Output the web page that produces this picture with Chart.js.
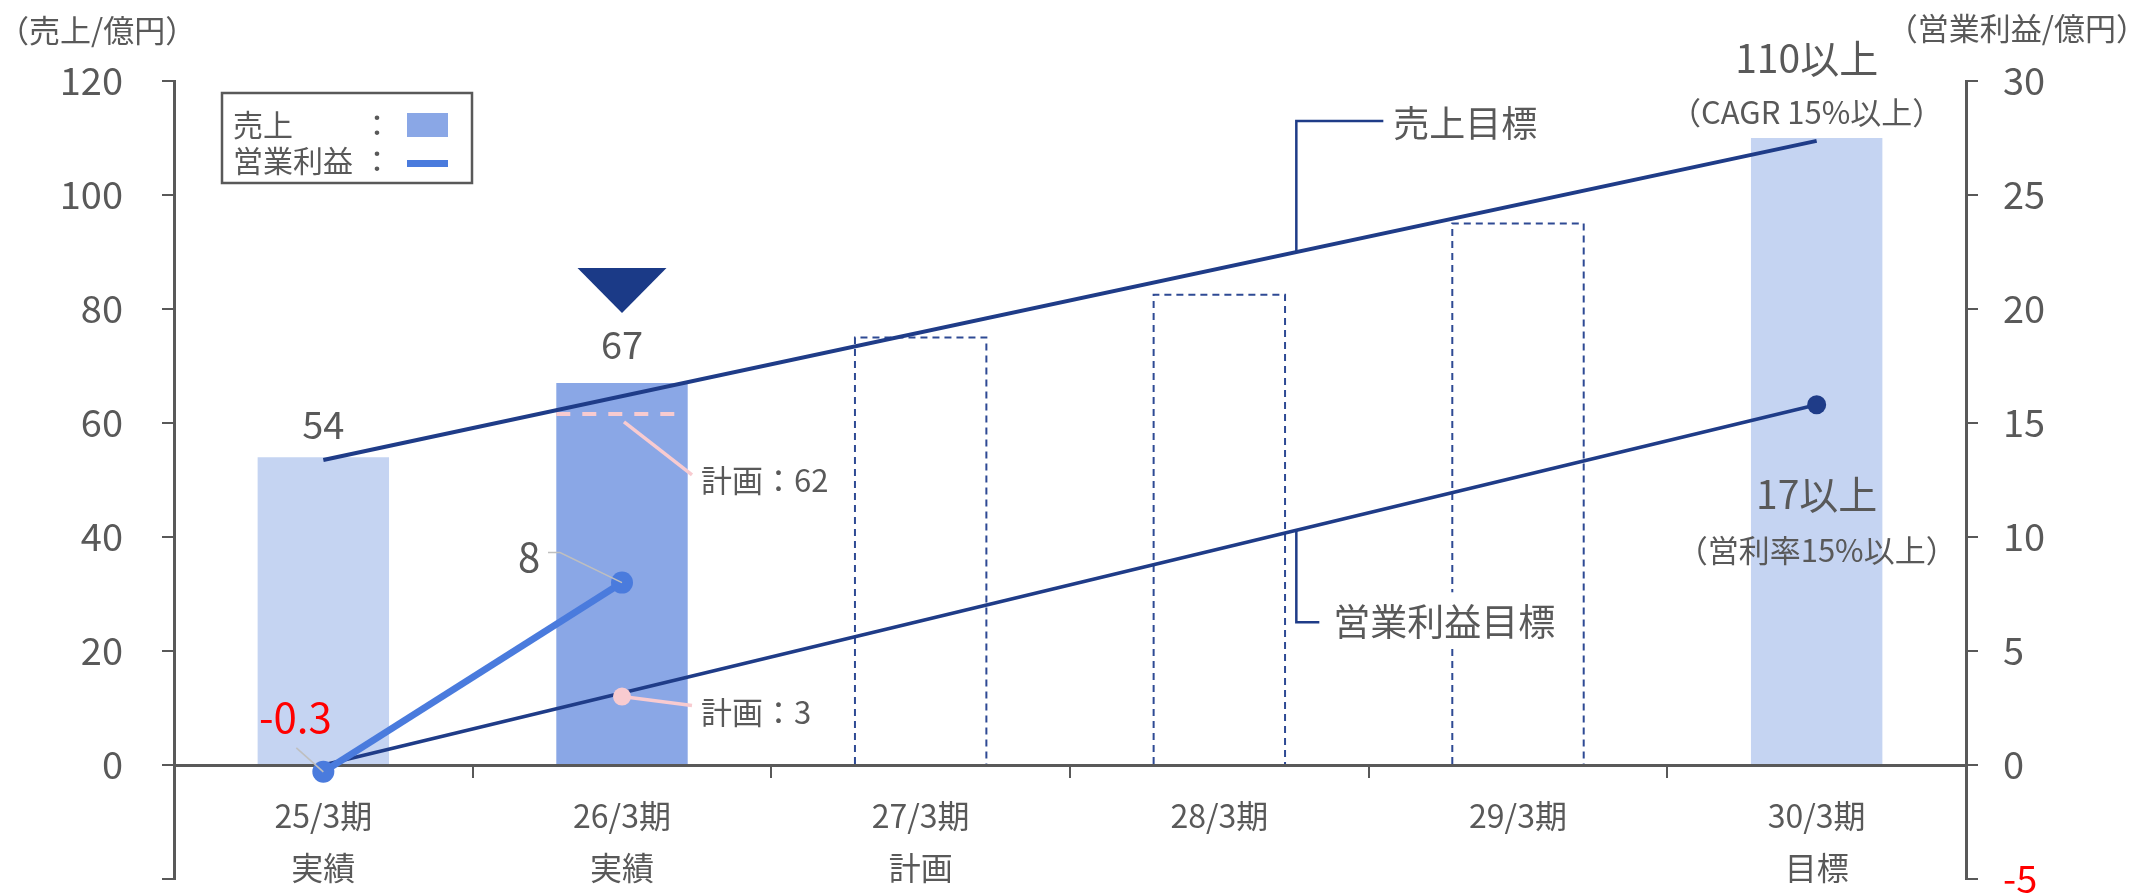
<!DOCTYPE html>
<html><head><meta charset="utf-8">
<script src="https://cdn.jsdelivr.net/npm/chart.js@4.4.1/dist/chart.umd.min.js"></script>
<style>html,body{margin:0;padding:0;background:#fff;}#wrap{width:2145px;height:893px;position:relative;}</style>
</head><body><div id="wrap"><canvas id="c" width="2145" height="893"></canvas></div>
<script>
// ---- data ----
const periods = ['25/3期','26/3期','27/3期','28/3期','29/3期','30/3期'];
const periodNotes = ['実績','実績','計画','','','目標'];
const salesActual = [54, 67, null, null, null, 110];
const salesPlanBars = [null, null, 75, 82.5, 95, null];
const salesTarget = [53.5, null, null, null, null, 109.5];
const profitActual = [-0.3, 8, null, null, null, null];
const profitTarget = [0, null, null, null, null, 15.8];
const salesPlan = [null, 61.6, null, null, null, null];
const profitPlan = [null, 3, null, null, null, null];
const salesValueLabels = ['54', '67', null, null, null, '110以上'];
const profitValueLabels = ['-0.3', '8', null, null, null, '17以上'];
const planLabels = ['計画：62', '計画：3'];
const leftAxis = {min: -20, max: 120, step: 20};
const rightAxis = {min: -5, max: 30, step: 5};

// ---- style ----
const FONT = "'Noto Sans CJK JP','Noto Sans',sans-serif";
const GREY = '#595959';
const NAVY = '#1F3C88';
const BLUE = '#4A7BDD';
const PINK = '#F8CBD0';
const labels = periods.map((p, i) => [p, periodNotes[i]]);

function txt(ctx, s, x, y, size, color, align) {
  ctx.save();
  ctx.font = size + 'px ' + FONT;
  ctx.fillStyle = color || GREY;
  ctx.textAlign = align || 'center';
  ctx.textBaseline = 'middle';
  ctx.fillText(s, x, y);
  ctx.restore();
}
function path(ctx, pts, color, w, dash) {
  ctx.save();
  ctx.strokeStyle = color; ctx.lineWidth = w;
  ctx.setLineDash(dash || []);
  ctx.beginPath();
  pts.forEach((p, i) => i ? ctx.lineTo(p[0], p[1]) : ctx.moveTo(p[0], p[1]));
  ctx.stroke();
  ctx.restore();
}

const deco = {
  id: 'deco',
  afterDatasetDraw(chart, args) {
    const ctx = chart.ctx;
    const ys = chart.scales.y;
    if (args.index === 0) {
      const meta = chart.getDatasetMeta(0);
      salesPlan.forEach((v, i) => {
        if (v == null) return;
        const el = meta.data[i];
        const yy = ys.getPixelForValue(v);
        path(ctx, [[el.x - el.width / 2, yy], [el.x + el.width / 2 - 6, yy]], PINK, 4, [14, 12]);
      });
    }
    if (args.index === 1) {
      const meta = chart.getDatasetMeta(1);
      salesPlanBars.forEach((v, i) => {
        if (v == null) return;
        const el = meta.data[i];
        const l = el.x - el.width / 2, r = el.x + el.width / 2;
        path(ctx, [[l, el.base], [l, el.y], [r, el.y], [r, el.base]], '#2E4A94', 2, [7, 5]);
      });
    }
  },
  afterDatasetsDraw(chart) {
    const ctx = chart.ctx;
    const xs = chart.scales.x, ys = chart.scales.y, y1 = chart.scales.y1;
    const cx = i => xs.getPixelForValue(i);

    // titles
    txt(ctx, '（売上/億円）', -2, 30, 31, GREY, 'left');
    txt(ctx, '（営業利益/億円）', 2147, 28, 31, GREY, 'right');

    // legend
    ctx.save();
    ctx.fillStyle = '#fff'; ctx.fillRect(222, 93, 250, 90);
    ctx.strokeStyle = GREY; ctx.lineWidth = 2.5; ctx.strokeRect(222, 93, 250, 90);
    ctx.fillStyle = '#8AA7E6'; ctx.fillRect(407, 113, 41, 24);
    ctx.fillStyle = BLUE; ctx.fillRect(407, 160, 41, 7);
    ctx.restore();
    txt(ctx, '売上', 233, 125, 30, GREY, 'left');
    txt(ctx, '：', 377, 125, 30, GREY, 'center');
    txt(ctx, '営業利益', 233, 161, 30, GREY, 'left');
    txt(ctx, '：', 377, 161, 30, GREY, 'center');

    // sales value labels
    const dy = [-33, -39];
    salesActual.forEach((v, i) => {
      const s = salesValueLabels[i];
      if (v == null || !s) return;
      const top = ys.getPixelForValue(v);
      if (i < 5) {
        txt(ctx, s, cx(i), top + dy[i], 38, GREY);
      } else {
        txt(ctx, s, cx(i) - 10, top - 80, 39, GREY);
        txt(ctx, '（CAGR 15%以上）', cx(i) - 10, top - 26, 31, GREY);
      }
    });
    // triangle over latest actual
    {
      const top = ys.getPixelForValue(salesActual[1]);
      const x = cx(1), ay = top - 70;
      ctx.save(); ctx.fillStyle = '#1B3A87';
      ctx.beginPath(); ctx.moveTo(x - 44.5, ay - 45); ctx.lineTo(x + 44.5, ay - 45); ctx.lineTo(x, ay); ctx.closePath(); ctx.fill();
      ctx.restore();
    }

    // planned sales callout
    {
      const yy = ys.getPixelForValue(salesPlan[1]);
      const x = cx(1);
      path(ctx, [[x + 2, yy + 8], [x + 70, yy + 61]], PINK, 3.5);
      txt(ctx, planLabels[0], x + 79, yy + 66, 31, GREY, 'left');
    }
    // planned profit callout
    {
      const yy = y1.getPixelForValue(profitPlan[1]);
      const x = cx(1);
      path(ctx, [[x, yy], [x + 70, yy + 9]], PINK, 3.5);
      txt(ctx, planLabels[1], x + 79, yy + 16, 31, GREY, 'left');
    }

    // profit value labels
    {
      const p0 = [cx(0), y1.getPixelForValue(profitActual[0])];
      path(ctx, [[p0[0] - 27, p0[1] - 24], [p0[0], p0[1]]], '#BFBFBF', 1.5);
      txt(ctx, profitValueLabels[0], p0[0] - 28, p0[1] - 55, 42, '#FF0000');
      const p1 = [cx(1), y1.getPixelForValue(profitActual[1])];
      path(ctx, [[p1[0] - 74, p1[1] - 30], [p1[0] - 62, p1[1] - 30], [p1[0], p1[1]]], '#BFBFBF', 1.5);
      txt(ctx, profitValueLabels[1], p1[0] - 93, p1[1] - 26, 40, GREY);
      const p5 = [cx(5), y1.getPixelForValue(profitTarget[5])];
      txt(ctx, profitValueLabels[5], p5[0], p5[1] + 89, 39, GREY);
      txt(ctx, '（営利率15%以上）', p5[0], p5[1] + 145, 31, GREY);
    }

    // target callouts
    const ex = cx(3) + 77;
    {
      const a = [cx(0), ys.getPixelForValue(salesTarget[0])], b = [cx(5), ys.getPixelForValue(salesTarget[5])];
      const ly = a[1] + (b[1] - a[1]) * (ex - a[0]) / (b[0] - a[0]);
      path(ctx, [[ex, ly], [ex, ly - 131], [ex + 87, ly - 131]], NAVY, 2.5);
      txt(ctx, '売上目標', ex + 97, ly - 129, 36, GREY, 'left');
    }
    {
      const a = [cx(0), y1.getPixelForValue(profitTarget[0])], b = [cx(5), y1.getPixelForValue(profitTarget[5])];
      const ly = a[1] + (b[1] - a[1]) * (ex - a[0]) / (b[0] - a[0]);
      ctx.save(); ctx.fillStyle = '#fff'; ctx.fillRect(ex + 30, ly + 62, 245, 52); ctx.restore();
      path(ctx, [[ex, ly], [ex, ly + 92], [ex + 23, ly + 92]], NAVY, 2.5);
      txt(ctx, '営業利益目標', ex + 37, ly + 92, 37, GREY, 'left');
    }
  }
};

new Chart(document.getElementById('c'), {
  data: {
    labels: labels,
    datasets: [
      {type: 'bar', label: '売上', data: salesActual, yAxisID: 'y', order: 10, grouped: false,
       backgroundColor: ['#C5D4F2', '#8AA7E6', '#C5D4F2', '#C5D4F2', '#C5D4F2', '#C5D4F2'],
       barPercentage: 0.44, categoryPercentage: 1},
      {type: 'bar', label: '売上計画', data: salesPlanBars, yAxisID: 'y', order: 9, grouped: false,
       backgroundColor: 'rgba(0,0,0,0)', barPercentage: 0.44, categoryPercentage: 1},
      {type: 'line', label: '売上目標', data: salesTarget, yAxisID: 'y', order: 5, spanGaps: true,
       borderColor: NAVY, borderWidth: 4, pointRadius: 0, fill: false},
      {type: 'line', label: '営業利益目標', data: profitTarget, yAxisID: 'y1', order: 4, spanGaps: true,
       borderColor: NAVY, borderWidth: 3.5, pointRadius: [0, 0, 0, 0, 0, 9.5],
       pointBackgroundColor: NAVY, pointBorderWidth: 0, fill: false},
      {type: 'line', label: '営業利益', data: profitActual, yAxisID: 'y1', order: 2,
       borderColor: BLUE, borderWidth: 7, pointRadius: 11, pointBackgroundColor: BLUE, pointBorderWidth: 0, fill: false},
      {type: 'line', label: '営業利益計画', data: profitPlan, yAxisID: 'y1', order: 1, showLine: false,
       pointRadius: 9, pointBackgroundColor: PINK, pointBorderWidth: 0}
    ]
  },
  options: {
    responsive: false,
    animation: false,
    devicePixelRatio: 1,
    layout: {padding: {top: 81, bottom: 14, left: 0, right: 0}},
    plugins: {legend: {display: false}, tooltip: {enabled: false}},
    scales: {
      x: {
        type: 'category',
        position: {y: 0},
        grid: {drawOnChartArea: false, drawTicks: true, tickLength: 11, color: GREY, lineWidth: 2, offset: true},
        border: {display: true, color: GREY, width: 3},
        ticks: {font: {family: FONT, size: 32, lineHeight: 1.625}, color: GREY, padding: 14, maxRotation: 0, autoSkip: false},
        afterFit: s => { s.paddingLeft = 0; s.paddingRight = 0; }
      },
      y: {
        position: 'left', min: leftAxis.min, max: leftAxis.max,
        grid: {drawOnChartArea: false, drawTicks: true, tickLength: 12, color: GREY, lineWidth: 2},
        border: {display: true, color: GREY, width: 3},
        ticks: {stepSize: leftAxis.step, font: {family: FONT, size: 38}, color: GREY, padding: 39,
                callback: v => v < 0 ? '' : String(v)},
        afterFit: s => { s.width = 174; s.paddingTop = 0; s.paddingBottom = 0; }
      },
      y1: {
        position: 'right', min: rightAxis.min, max: rightAxis.max,
        grid: {drawOnChartArea: false, drawTicks: true, tickLength: 12, color: GREY, lineWidth: 2},
        border: {display: true, color: GREY, width: 3},
        ticks: {stepSize: rightAxis.step, font: {family: FONT, size: 38}, padding: 25,
                color: c => (c.tick && c.tick.value < 0) ? '#FF0000' : GREY,
                callback: v => String(v)},
        afterFit: s => { s.width = 179; s.paddingTop = 0; s.paddingBottom = 0; }
      }
    }
  },
  plugins: [deco]
});
</script></body></html>
